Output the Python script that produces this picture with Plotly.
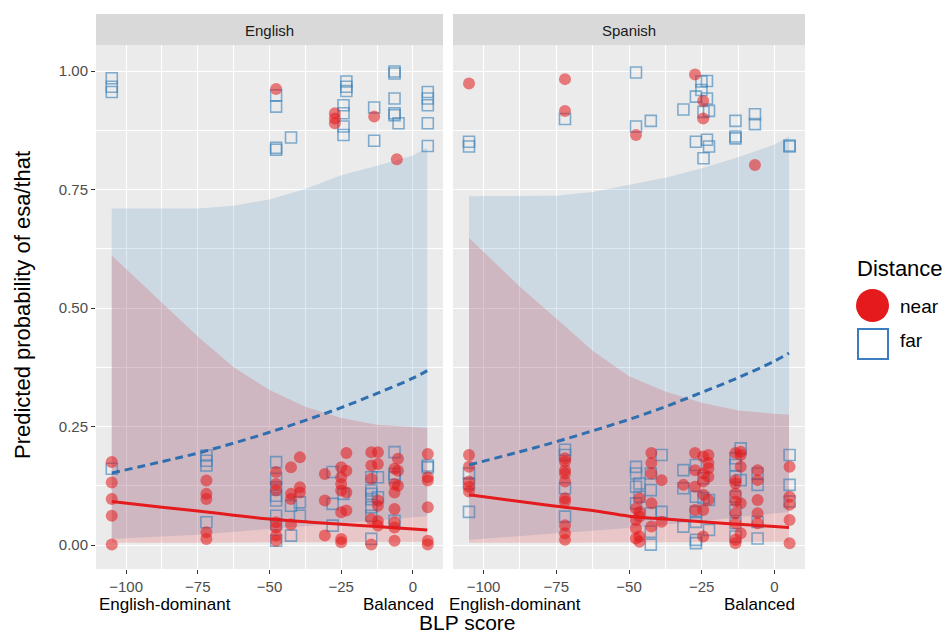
import plotly.graph_objects as go

W, H = 946, 635

# ---------------- data ----------------
panels = ["English", "Spanish"]
tick_vals = [-100, -75, -50, -25, 0]
prob_ticks = [0.0, 0.25, 0.5, 0.75, 1.0]
prob_labels = ["0.00", "0.25", "0.50", "0.75", "1.00"]

grid_blp = [-105, -87.5, -75, -62.5, -50, -37.5, -25, -12.5, 0, 5]
lower_blp = [-105, -75, -50, -25, 5]

# English panel model fits and confidence bands
en_far_fit = [0.152, 0.176, 0.194, 0.215, 0.238, 0.263, 0.290, 0.320, 0.352, 0.368]
en_near_fit = [0.092, 0.080, 0.072, 0.063, 0.055, 0.049, 0.044, 0.039, 0.034, 0.032]
en_far_hi = [0.710, 0.710, 0.710, 0.716, 0.729, 0.751, 0.780, 0.800, 0.822, 0.839]
en_near_hi = [0.611, 0.511, 0.440, 0.375, 0.327, 0.292, 0.268, 0.254, 0.249, 0.247]
en_far_lo = [0.013, 0.022, 0.034, 0.046, 0.061]
en_near_lo = [0.005, 0.005, 0.006, 0.006, 0.007]

# Spanish panel model fits and confidence bands
es_far_fit = [0.169, 0.197, 0.218, 0.241, 0.265, 0.292, 0.322, 0.353, 0.388, 0.405]
es_near_fit = [0.106, 0.092, 0.082, 0.073, 0.061, 0.055, 0.049, 0.044, 0.039, 0.037]
es_far_hi = [0.736, 0.736, 0.737, 0.745, 0.760, 0.775, 0.795, 0.818, 0.845, 0.862]
es_near_hi = [0.648, 0.545, 0.478, 0.410, 0.356, 0.324, 0.300, 0.284, 0.277, 0.275]
es_far_lo = [0.011, 0.024, 0.036, 0.050, 0.070]
es_near_lo = [0.005, 0.005, 0.006, 0.006, 0.007]

# observed (jittered) responses: (BLP score, [probabilities])
en_near_pts = [
    (-105, [0.175, 0.132, 0.097, 0.062, 0.001]),
    (-72, [0.136, 0.108, 0.097, 0.027, 0.013]),
    (-47.7, [0.154, 0.129, 0.115, 0.048, 0.037, 0.020, 0.009, 0.962]),
    (-42.5, [0.164, 0.108, 0.097, 0.044]),
    (-39.4, [0.185, 0.122, 0.111]),
    (-30.7, [0.150, 0.094, 0.020]),
    (-27.2, [0.911, 0.900, 0.890]),
    (-25, [0.164, 0.143, 0.129, 0.115, 0.069, 0.013, 0.006]),
    (-23.2, [0.194, 0.157, 0.111, 0.073]),
    (-14.5, [0.196, 0.168, 0.140, 0.055, 0.001]),
    (-13.5, [0.904]),
    (-12.2, [0.196, 0.171, 0.094, 0.083, 0.051, 0.041]),
    (-6.4, [0.161, 0.129, 0.111, 0.076, 0.048, 0.037, 0.009]),
    (-5.6, [0.814]),
    (-5.2, [0.182, 0.157, 0.125]),
    (5.2, [0.192, 0.143, 0.136, 0.080, 0.009, 0.001]),
]
en_far_pts = [
    (-105, [0.161, 0.985, 0.967, 0.956]),
    (-72, [0.189, 0.178, 0.168, 0.048]),
    (-47.7, [0.175, 0.140, 0.122, 0.104, 0.094, 0.062, 0.044, 0.009, 0.949, 0.925, 0.834, 0.838]),
    (-42.5, [0.083, 0.020, 0.860]),
    (-39.4, [0.090, 0.062]),
    (-28, [0.154, 0.087, 0.041]),
    (-24.2, [0.108, 0.928, 0.911, 0.883, 0.865]),
    (-23.2, [0.978, 0.967, 0.958]),
    (-14.5, [0.143, 0.115, 0.108, 0.097, 0.080, 0.062, 0.013]),
    (-13.5, [0.923, 0.853]),
    (-12.2, [0.143, 0.101]),
    (-6.4, [0.196, 0.150, 0.143, 0.051, 0.999, 0.995, 0.942, 0.911, 0.907]),
    (-5, [0.890]),
    (5.2, [0.168, 0.164, 0.956, 0.942, 0.928, 0.890, 0.842]),
]
es_near_pts = [
    (-105, [0.190, 0.165, 0.134, 0.123, 0.113, 0.974]),
    (-72, [0.183, 0.176, 0.158, 0.151, 0.134, 0.099, 0.092, 0.042, 0.025, 0.011, 0.983, 0.916]),
    (-47.6, [0.077, 0.053, 0.035, 0.014, 0.865]),
    (-46.4, [0.099, 0.070, 0.060, 0.018, 0.007]),
    (-42.3, [0.194, 0.173, 0.151, 0.088, 0.039]),
    (-38.8, [0.137, 0.049]),
    (-31.3, [0.127]),
    (-27.3, [0.194, 0.158, 0.123, 0.074, 0.993]),
    (-24.5, [0.187, 0.151, 0.134, 0.106, 0.074, 0.018, 0.937, 0.900]),
    (-22.7, [0.190, 0.173, 0.162, 0.144, 0.095]),
    (-13.4, [0.194, 0.137, 0.130, 0.109, 0.092, 0.067, 0.046, 0.011, 0.004]),
    (-11.6, [0.197, 0.190, 0.165, 0.088, 0.025]),
    (-6.7, [0.802]),
    (-5.8, [0.158, 0.137, 0.095, 0.067, 0.046]),
    (5.2, [0.165, 0.102, 0.085, 0.053, 0.004]),
]
es_far_pts = [
    (-105, [0.151, 0.130, 0.070, 0.851, 0.841]),
    (-72, [0.201, 0.190, 0.120, 0.060, 0.899]),
    (-47.6, [0.165, 0.151, 0.123, 0.088, 0.997, 0.883]),
    (-46.4, [0.130, 0.102]),
    (-42.5, [0.151, 0.116, 0.067, 0.028, 0.001, 0.895]),
    (-38.8, [0.190, 0.070]),
    (-31.3, [0.158, 0.120, 0.039, 0.919]),
    (-27.0, [0.169, 0.102, 0.070, 0.049, 0.011, 0.004, 0.946, 0.851]),
    (-25.1, [0.978, 0.960]),
    (-24.4, [0.141, 0.099, 0.914, 0.816]),
    (-23.2, [0.979, 0.942, 0.855]),
    (-22.5, [0.095, 0.032, 0.916, 0.841]),
    (-13.4, [0.183, 0.169, 0.144, 0.102, 0.074, 0.046, 0.018, 0.895, 0.862, 0.858]),
    (-11.6, [0.204, 0.137]),
    (-6.7, [0.909, 0.888]),
    (-5.8, [0.151, 0.127, 0.049, 0.014]),
    (5.2, [0.190, 0.127, 0.092, 0.841, 0.843]),
]

# ---------------- styling ----------------
FONT = "Liberation Sans, Arial, sans-serif"
RED = "#E41A1C"
BLUE = "#377EB8"
near_fill = "rgba(228,26,28,0.17)"
far_fill = "rgba(55,126,184,0.17)"


def flatten(clusters):
    xs, ys = [], []
    for b, vals in clusters:
        for v in vals:
            xs.append(b)
            ys.append(v)
    return xs, ys


fig = go.Figure()

panel_data = [
    ("x", "y", en_far_fit, en_near_fit, en_far_hi, en_near_hi, en_far_lo, en_near_lo, en_near_pts, en_far_pts),
    ("x2", "y2", es_far_fit, es_near_fit, es_far_hi, es_near_hi, es_far_lo, es_near_lo, es_near_pts, es_far_pts),
]

for xa, ya, far_fit, near_fit, far_hi, near_hi, far_lo, near_lo, near_pts, far_pts in panel_data:
    # ribbons
    fig.add_trace(go.Scatter(
        x=grid_blp + lower_blp[::-1], y=far_hi + far_lo[::-1],
        fill="toself", fillcolor=far_fill, line=dict(width=0), mode="lines",
        hoverinfo="skip", showlegend=False, xaxis=xa, yaxis=ya))
    fig.add_trace(go.Scatter(
        x=grid_blp + lower_blp[::-1], y=near_hi + near_lo[::-1],
        fill="toself", fillcolor=near_fill, line=dict(width=0), mode="lines",
        hoverinfo="skip", showlegend=False, xaxis=xa, yaxis=ya))
    # points
    nx, ny = flatten(near_pts)
    fx, fy = flatten(far_pts)
    fig.add_trace(go.Scatter(
        x=fx, y=fy, mode="markers",
        marker=dict(symbol="square-open", size=11, color="rgba(55,126,184,0.6)",
                    line=dict(width=1.6, color="rgba(55,126,184,0.6)")),
        showlegend=False, xaxis=xa, yaxis=ya))
    fig.add_trace(go.Scatter(
        x=nx, y=ny, mode="markers",
        marker=dict(symbol="circle", size=12, color="rgba(228,26,28,0.55)", line=dict(width=0)),
        showlegend=False, xaxis=xa, yaxis=ya))
    # fitted lines
    fig.add_trace(go.Scatter(
        x=grid_blp, y=near_fit, mode="lines", line=dict(color=RED, width=3, shape="spline"),
        showlegend=False, xaxis=xa, yaxis=ya))
    fig.add_trace(go.Scatter(
        x=grid_blp, y=far_fit, mode="lines",
        line=dict(color="#2F6FB0", width=3, dash="8px,5px", shape="spline"),
        showlegend=False, xaxis=xa, yaxis=ya))


def px(x):
    return x / W


def py(y):
    return 1 - y / H


xcommon = dict(
    range=[-110.5, 10.5], tickvals=tick_vals, ticks="outside", ticklen=4, tickwidth=1.3,
    tickcolor="#333333", tickfont=dict(size=15, color="#4D4D4D", family=FONT),
    showgrid=True, gridcolor="white", gridwidth=1.4, zeroline=False, showline=False,
    minor=dict(showgrid=True, gridcolor="white", gridwidth=0.7, dtick=12.5, tick0=0, ticks=""),
    fixedrange=True,
)
ycommon = dict(
    range=[-0.0505, 1.055], tickvals=prob_ticks, ticktext=prob_labels,
    showgrid=True, gridcolor="white", gridwidth=1.4, zeroline=False, showline=False,
    minor=dict(showgrid=True, gridcolor="white", gridwidth=0.7, dtick=0.125, tick0=0, ticks=""),
    domain=[py(569), py(45)], fixedrange=True,
)

fig.update_layout(
    width=W, height=H,
    margin=dict(l=0, r=0, t=0, b=0),
    paper_bgcolor="white", plot_bgcolor="#EBEBEB",
    font=dict(family=FONT, color="black"),
    xaxis=dict(domain=[px(96), px(443)], anchor="y", **xcommon),
    xaxis2=dict(domain=[px(453), px(805)], anchor="y2", **xcommon),
    yaxis=dict(anchor="x", ticks="outside", ticklen=4, tickwidth=1.3, tickcolor="#333333",
               tickfont=dict(size=15, color="#4D4D4D", family=FONT), **ycommon),
    yaxis2=dict(anchor="x2", showticklabels=False, ticks="", **ycommon),
    showlegend=False,
)

shapes = []
annotations = []
# facet strips
for (x0, x1), name in zip([(96, 443), (453, 805)], panels):
    shapes.append(dict(type="rect", xref="paper", yref="paper", x0=px(x0), x1=px(x1),
                       y0=py(45), y1=py(14), fillcolor="#D9D9D9", line=dict(width=0), layer="below"))
    annotations.append(dict(text=name, xref="paper", yref="paper", x=px((x0 + x1) / 2), y=py(30),
                            showarrow=False, font=dict(size=15, color="#1A1A1A", family=FONT),
                            xanchor="center", yanchor="middle"))

# axis end labels
for xl, xr in [(97, 436), (447, 797)]:
    annotations.append(dict(text="English-dominant", xref="paper", yref="paper", x=px(xl), y=py(604),
                            showarrow=False, xanchor="left", yanchor="middle",
                            font=dict(size=17, color="black", family=FONT)))
    annotations.append(dict(text="Balanced", xref="paper", yref="paper", x=px(xr), y=py(604),
                            showarrow=False, xanchor="right", yanchor="middle",
                            font=dict(size=17, color="black", family=FONT)))

# axis titles
annotations.append(dict(text="BLP score", xref="paper", yref="paper", x=px(467), y=py(622),
                        showarrow=False, xanchor="center", yanchor="middle",
                        font=dict(size=21, color="black", family=FONT)))
annotations.append(dict(text="Predicted probability of esa/that", xref="paper", yref="paper",
                        x=px(22), y=py(305), textangle=-90, showarrow=False,
                        xanchor="center", yanchor="middle",
                        font=dict(size=22, color="black", family=FONT)))

# legend (drawn manually)
annotations.append(dict(text="Distance", xref="paper", yref="paper", x=px(855), y=py(268),
                        showarrow=False, xanchor="left", yanchor="middle",
                        font=dict(size=22, color="black", family=FONT)))
shapes.append(dict(type="circle", xref="paper", yref="paper", x0=px(856), x1=px(889),
                   y0=py(322), y1=py(289), fillcolor=RED, line=dict(width=0)))
shapes.append(dict(type="rect", xref="paper", yref="paper", x0=px(858), x1=px(888),
                   y0=py(359), y1=py(329), fillcolor="rgba(0,0,0,0)", line=dict(width=2, color="#3B7DC0")))
annotations.append(dict(text="near", xref="paper", yref="paper", x=px(898), y=py(306),
                        showarrow=False, xanchor="left", yanchor="middle",
                        font=dict(size=19, color="black", family=FONT)))
annotations.append(dict(text="far", xref="paper", yref="paper", x=px(898), y=py(340),
                        showarrow=False, xanchor="left", yanchor="middle",
                        font=dict(size=19, color="black", family=FONT)))

fig.update_layout(shapes=shapes, annotations=annotations)
fig.write_html("out.html")
